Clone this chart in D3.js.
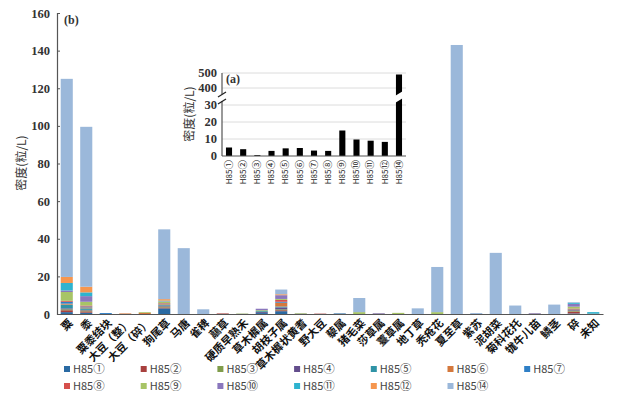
<!DOCTYPE html>
<html>
<head>
<meta charset="utf-8">
<script src="https://cdn.jsdelivr.net/npm/d3@7"></script>
<style>
  body { margin: 0; background: #fff; }
  svg { display: block; }
</style>
</head>
<body>
<div id="chart"></div>
<script>
// categories (main chart b)
var categories = ['粟', '黍', '粟黍结块', '大豆（整）', '大豆（碎）', '狗尾草', '马唐', '雀稗', '虉草',
  '硬质早熟禾', '草木樨属', '胡枝子属', '草木樨状黄耆', '野大豆', '藜属', '猪毛菜', '莎草属', '薹草属',
  '地丁草', '秃疮花', '夏至草', '紫苏', '泥胡菜', '菊科花托', '牻牛儿苗', '鳞茎', '碎', '未知'];

var seriesNames = ['H85①', 'H85②', 'H85③', 'H85④', 'H85⑤', 'H85⑥', 'H85⑦',
  'H85⑧', 'H85⑨', 'H85⑩', 'H85⑪', 'H85⑫', 'H85⑭'];

// one array per sample, values in the category order above
var s1  = [1.0, 0.7, 0,   0,   0,   3.0, 0, 0,   0,   0,   0.5, 1.5, 0,   0,   0.3, 0,   0,   0,   0, 0,  0,   0,   0,    0,   0,   0, 0.3, 0];
var s2  = [1.0, 0.7, 0,   0,   0,   0.5, 0, 0,   0.3, 0,   0,   0.5, 0,   0.2, 0,   0,   0,   0,   0, 0,  0,   0,   0,    0,   0,   0, 1.0, 0];
var s3  = [0.5, 0.5, 0,   0,   0,   0.5, 0, 0,   0,   0.2, 0,   0.5, 0.3, 0,   0,   0,   0,   0,   0, 0,  0,   0,   0,    0,   0,   0, 0.5, 0];
var s4  = [0.5, 0.3, 0,   0,   0,   0.5, 0, 0,   0,   0,   0.5, 1.0, 0,   0,   0,   0,   0.3, 0,   0, 0,  0,   0,   0,    0,   0.3, 0, 0.3, 0];
var s5  = [2.0, 0.8, 0,   0,   0,   0.5, 0, 0,   0,   0,   0.5, 0.5, 0,   0,   0,   0,   0,   0,   0, 0,  0,   0,   0,    0,   0,   0, 0.3, 0.3];
var s6  = [0.5, 0.5, 0,   0.3, 0.6, 0.3, 0, 0,   0,   0,   0,   2.0, 0,   0,   0,   0,   0,   0,   0, 0,  0,   0,   0,    0,   0,   0, 0,   0];
var s7  = [1.0, 0.5, 0.5, 0,   0,   0.2, 0, 0,   0,   0,   0,   0.5, 0,   0,   0,   0,   0,   0,   0, 0,  0,   0,   0,    0,   0,   0, 0,   0];
var s8  = [0.5, 0.5, 0,   0,   0,   0.3, 0, 0,   0,   0,   0,   1.0, 0,   0,   0,   0,   0,   0,   0, 0,  0,   0,   0,    0,   0,   0, 0.5, 0];
var s9  = [4.7, 2.0, 0,   0,   0.4, 0.8, 0, 0,   0,   0,   0.5, 0.5, 0,   0,   0,   1.0, 0,   0.6, 0, 1.0, 0,  0,   0,    0,   0,   0, 1.0, 0];
var s10 = [0.8, 3.0, 0,   0,   0,   0.2, 0, 0,   0,   0,   0.8, 2.0, 0,   0,   0,   0,   0,   0,   0, 0,  0,   0,   0,    0,   0,   0, 1.5, 0];
var s11 = [4.0, 2.0, 0,   0,   0,   0.3, 0, 0,   0,   0,   0,   0,   0,   0,   0,   0,   0,   0,   0, 0,  0,   0,   0,    0,   0,   0, 0.5, 0.7];
var s12 = [3.2, 3.0, 0,   0,   0,   0.8, 0, 0,   0,   0,   0,   0.5, 0,   0,   0,   0,   0,   0,   0, 0,  0,   0,   0,    0,   0,   0, 0,   0];
var s14 = [105.3, 85, 0,  0,   0,   37.1, 35, 2.5, 0,  0,   0,   2.5, 0,   0,   0,   7.5, 0,   0,   3, 24, 143, 0.5, 32.5, 4.5, 0,   5, 0.4, 0];

var seriesValues = [s1, s2, s3, s4, s5, s6, s7, s8, s9, s10, s11, s12, s14];
var seriesColors = ['#2a6aa3', '#a8403e', '#7f9c4a', '#634d8c', '#2f93a6', '#d4783c', '#2f7fc6',
  '#d6504c', '#a7c466', '#8a77bd', '#2eb3cf', '#f5964f', '#9bb8da'];

var yTicks = [0, 20, 40, 60, 80, 100, 120, 140, 160];

// inset (a): totals per sample
var insetLabels = ['H85①', 'H85②', 'H85③', 'H85④', 'H85⑤', 'H85⑥', 'H85⑦',
  'H85⑧', 'H85⑨', 'H85⑩', 'H85⑪', 'H85⑫', 'H85⑭'];
var insetValues = [5, 4, 0.5, 3, 4.5, 4.7, 3.2, 3, 15, 9.7, 9, 8.3, 490];
var insetLowTicks = [0, 10, 20, 30];
var insetHighTicks = [400, 500];

var width = 618, height = 398;
var svg = d3.select('#chart').append('svg')
  .attr('width', width)
  .attr('height', height);

var serif = '"Liberation Serif", "Times New Roman", serif';
var cjk = '"Noto Sans CJK SC", sans-serif';

// "H85" + a bigger circled number, as in the original
function sampleLabel(sel, bigSize) {
  sel.each(function (d) {
    var t = d3.select(this);
    t.append('tspan').text(d.slice(0, 3));
    t.append('tspan')
      .style('font-family', '"Noto Sans CJK SC", "DejaVu Sans", sans-serif')
      .style('font-size', bigSize)
      .text(d.slice(3));
  });
}

// ---------- main chart ----------
var x = d3.scaleBand().domain(categories).range([57, 603]).paddingInner(0.38).paddingOuter(0.19);
var y = d3.scaleLinear().domain([0, 160]).range([314, 13]);

var rows = categories.map(function (c, i) {
  var r = { cat: c };
  seriesNames.forEach(function (s, j) { r[s] = seriesValues[j][i]; });
  return r;
});
var stacked = d3.stack().keys(seriesNames)(rows);

svg.append('g')
  .selectAll('g')
  .data(stacked)
  .enter()
  .append('g')
  .attr('fill', function (d, i) { return seriesColors[i]; })
  .selectAll('rect')
  .data(function (d) { return d; })
  .enter()
  .append('rect')
  .attr('x', function (d) { return x(d.data.cat); })
  .attr('width', x.bandwidth())
  .attr('y', function (d) { return y(d[1]); })
  .attr('height', function (d) { return Math.max(0, y(d[0]) - y(d[1])); });

// y axis
var yAxis = svg.append('g')
  .attr('transform', 'translate(57,0)')
  .call(d3.axisLeft(y).tickValues(yTicks).tickSize(-3).tickPadding(7));
yAxis.select('.domain').attr('stroke', '#555').attr('stroke-width', 1.2);
yAxis.selectAll('.tick line').attr('stroke', '#555');
yAxis.selectAll('text')
  .style('font-family', serif)
  .style('font-size', '12.5px')
  .style('font-weight', 'bold')
  .attr('fill', '#333');

// x axis
var xAxis = svg.append('g')
  .attr('transform', 'translate(0,314)')
  .call(d3.axisBottom(x).tickSize(0).tickSizeOuter(0).tickFormat(''));
xAxis.select('.domain').attr('stroke', '#555').attr('stroke-width', 1.2);

svg.append('g')
  .selectAll('text')
  .data(categories)
  .enter()
  .append('text')
  .attr('transform', function (d) {
    return 'translate(' + (x(d) + x.bandwidth() / 2 + 4) + ',321) rotate(-45)';
  })
  .attr('text-anchor', 'end')
  .attr('dy', '0.35em')
  .style('font-family', cjk)
  .style('font-size', '11px')
  .style('font-weight', 'bold')
  .attr('fill', '#111')
  .text(function (d) { return d; });

svg.append('text')
  .attr('transform', 'translate(26,163) rotate(-90)')
  .attr('text-anchor', 'middle')
  .style('font-family', cjk)
  .style('font-size', '12px')
  .attr('fill', '#333')
  .text('密度(粒/L)');

svg.append('text')
  .attr('x', 64)
  .attr('y', 24)
  .style('font-family', serif)
  .style('font-size', '12px')
  .style('font-weight', 'bold')
  .attr('fill', '#333')
  .text('(b)');

// ---------- inset chart (a) ----------
var ix = d3.scaleBand().domain(insetLabels).range([222, 406]).paddingInner(0.57).paddingOuter(0.28);
var iyLow = d3.scaleLinear().domain([0, 30]).range([156, 105]);
var iyHigh = d3.scaleLinear().domain([400, 500]).range([88, 73]);
var breakLow = 101, breakHigh = 94;

function iy(v) {
  return v <= 30 ? iyLow(v) : (v >= 400 ? iyHigh(v) : breakLow);
}

var inset = svg.append('g');

// gridlines
inset.selectAll('line.grid')
  .data(insetLowTicks.slice(1).concat(insetHighTicks))
  .enter()
  .append('line')
  .attr('class', 'grid')
  .attr('x1', 222).attr('x2', 406)
  .attr('y1', function (d) { return iy(d); })
  .attr('y2', function (d) { return iy(d); })
  .attr('stroke', '#dcdcdc')
  .attr('stroke-width', 1);

inset.selectAll('rect')
  .data(insetValues)
  .enter()
  .append('rect')
  .attr('x', function (d, i) { return ix(insetLabels[i]); })
  .attr('width', ix.bandwidth())
  .attr('y', function (d) { return iy(d); })
  .attr('height', function (d) { return 156 - iy(d); })
  .attr('fill', '#000');

// break in the tall bar
var last = insetLabels[insetLabels.length - 1];
var bx0 = ix(last) - 1, bx1 = ix(last) + ix.bandwidth() + 1;
inset.append('path')
  .attr('d', 'M' + bx0 + ',' + (breakLow + 2) + 'L' + bx1 + ',' + (breakLow - 3) +
    'L' + bx1 + ',' + (breakHigh - 3) + 'L' + bx0 + ',' + (breakHigh + 2) + 'Z')
  .attr('fill', '#fff');

// y axis with break
inset.append('line')
  .attr('x1', 222).attr('x2', 222)
  .attr('y1', 156).attr('y2', breakLow)
  .attr('stroke', '#555').attr('stroke-width', 1.2);
inset.append('line')
  .attr('x1', 222).attr('x2', 222)
  .attr('y1', breakHigh).attr('y2', iyHigh(500))
  .attr('stroke', '#555').attr('stroke-width', 1.2);
[breakLow + 1, breakHigh + 1].forEach(function (by) {
  inset.append('line')
    .attr('x1', 218).attr('x2', 226)
    .attr('y1', by + 2).attr('y2', by - 3)
    .attr('stroke', '#222').attr('stroke-width', 1.3);
});

inset.selectAll('text.ytick')
  .data(insetLowTicks.concat(insetHighTicks))
  .enter()
  .append('text')
  .attr('class', 'ytick')
  .attr('x', 217)
  .attr('y', function (d) { return iy(d); })
  .attr('dy', '0.35em')
  .attr('text-anchor', 'end')
  .style('font-family', serif)
  .style('font-size', '12.5px')
  .style('font-weight', 'bold')
  .attr('fill', '#333')
  .text(function (d) { return d; });

// x axis
inset.append('line')
  .attr('x1', 222).attr('x2', 406)
  .attr('y1', 156).attr('y2', 156)
  .attr('stroke', '#555').attr('stroke-width', 1.2);

inset.selectAll('text.xl')
  .data(insetLabels)
  .enter()
  .append('text')
  .attr('class', 'xl')
  .attr('transform', function (d) {
    return 'translate(' + (ix(d) + ix.bandwidth() / 2) + ',160) rotate(-90)';
  })
  .attr('text-anchor', 'end')
  .attr('dy', '0.35em')
  .style('font-family', cjk)
  .style('font-size', '8px')
  .attr('fill', '#222')
  .call(sampleLabel, '9.5px');

inset.append('text')
  .attr('transform', 'translate(194,114) rotate(-90)')
  .attr('text-anchor', 'middle')
  .style('font-family', cjk)
  .style('font-size', '12px')
  .attr('fill', '#333')
  .text('密度(粒/L)');

inset.append('text')
  .attr('x', 226)
  .attr('y', 83)
  .style('font-family', serif)
  .style('font-size', '12px')
  .style('font-weight', 'bold')
  .attr('fill', '#333')
  .text('(a)');

// ---------- legend ----------
var legend = svg.append('g');
var legendItems = legend.selectAll('g')
  .data(seriesNames)
  .enter()
  .append('g')
  .attr('transform', function (d, i) {
    var col = i % 7, row = Math.floor(i / 7);
    return 'translate(' + (64 + col * 76.7) + ',' + (369 + row * 17) + ')';
  });
legendItems.append('rect')
  .attr('x', 0).attr('y', -3)
  .attr('width', 6).attr('height', 6)
  .attr('fill', function (d, i) { return seriesColors[i]; });
legendItems.append('text')
  .attr('x', 9)
  .attr('y', 0)
  .attr('dy', '0.35em')
  .style('font-family', cjk)
  .style('font-size', '11px')
  .attr('fill', '#444')
  .call(sampleLabel, '11.5px');
</script>
</body>
</html>
